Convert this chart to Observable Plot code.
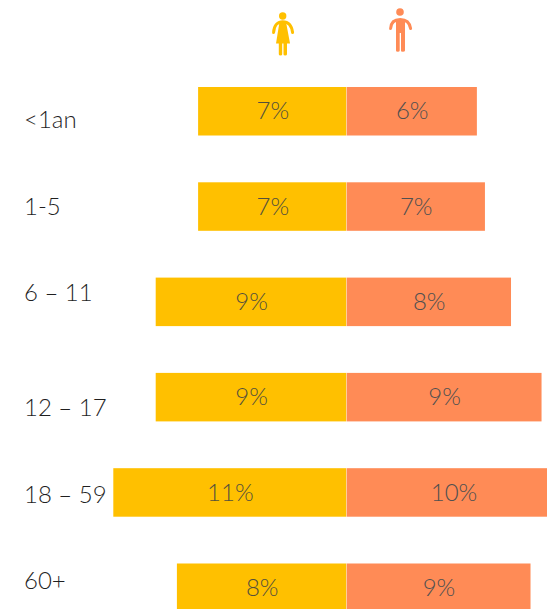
<!DOCTYPE html>
<html><head><meta charset="utf-8">
<style>html,body{margin:0;padding:0;background:#fff;overflow:hidden}svg{display:block}</style>
<script src="https://cdn.jsdelivr.net/npm/d3@7"></script>
<script src="https://cdn.jsdelivr.net/npm/@observablehq/plot@0.6"></script>
</head><body><div id="chart"></div>
<script>
const ageGroups = ["<1an", "1-5", "6 – 11", "12 – 17", "18 – 59", "60+"];
const women = [7, 7, 9, 9, 11, 8];
const men = [6.15, 6.53, 7.76, 9.2, 10.1, 8.68];

const yellow = "#FFC000", orange = "#FF8B56";
const W = 547, H = 609, pxPerPct = 21.2, zeroPx = 346.5;
const labelNudge = [9, 0, -9, 11, 2.5, -6.5];
const font = "Lato, 'Open Sans', sans-serif";

const rows = ageGroups.map((age, i) => ({age, women: women[i], men: men[i]}));

function icons() {
  const g = d3.create("svg:g");
  const w = g.append("g").attr("fill", yellow);
  w.append("circle").attr("cx", 282.7).attr("cy", 16).attr("r", 3.7);
  w.append("path").attr("d", "M273.6 32.5C274 25 278 21.8 282.7 21.8S291.6 25 292.6 32.5").attr("fill", "none").attr("stroke", yellow).attr("stroke-width", 3).attr("stroke-linecap", "round");
  w.append("path").attr("d", "M279.5 22H286L290 43.5H276Z");
  w.append("path").attr("d", "M278.8 43H282.2V54.2Q282.2 55.4 280.5 55.4T278.8 54.2ZM283.5 43H287V54.2Q287 55.4 285.2 55.4T283.5 54.2Z");
  const m = g.append("g").attr("fill", orange);
  m.append("circle").attr("cx", 400).attr("cy", 12).attr("r", 3.8);
  m.append("path").attr("d", "M390.6 28.5C391 22 395 19.5 400.2 19.5S409.6 22 410.6 28.5").attr("fill", "none").attr("stroke", orange).attr("stroke-width", 3).attr("stroke-linecap", "round");
  m.append("path").attr("d", "M396 19H405V50.5Q405 51.8 402.8 51.8T401 50.5V33H399.7V50.5Q399.7 51.8 397.8 51.8T396 50.5Z");
  return g.node();
}

const plot = Plot.plot({
  width: W, height: H,
  margin: 0,
  x: {axis: null, domain: [-zeroPx / pxPerPct, (W - zeroPx) / pxPerPct], range: [0, W]},
  y: {axis: null, domain: ageGroups, range: [87, 612], paddingInner: 0.491, paddingOuter: 0, round: false},
  marks: [
    Plot.barX(rows, {x1: 0, x2: d => -d.women, y: "age", fill: yellow, insetRight: 0.2}),
    Plot.barX(rows, {x1: 0, x2: "men", y: "age", fill: orange, insetLeft: 0.2}),
    Plot.text(rows, {x: d => -d.women / 2, y: "age", text: d => Math.round(d.women) + "%", fill: "#54503c", fontSize: 24, letterSpacing: -1, fontWeight: 300, fontFamily: font}),
    Plot.text(rows, {x: d => d.men / 2, y: "age", text: d => Math.round(d.men) + "%", fill: "#505050", fontSize: 24, letterSpacing: -1, fontWeight: 300, fontFamily: font}),
    ...ageGroups.map((a, i) => Plot.text([a], {y: d => d, text: d => d, frameAnchor: "left", dx: 23.5, dy: labelNudge[i], textAnchor: "start", fill: "#1f1f1f", fontSize: 24, letterSpacing: -0.8, fontWeight: 300, fontFamily: font})),
    icons
  ]
});
document.getElementById("chart").append(plot);
</script></body></html>
